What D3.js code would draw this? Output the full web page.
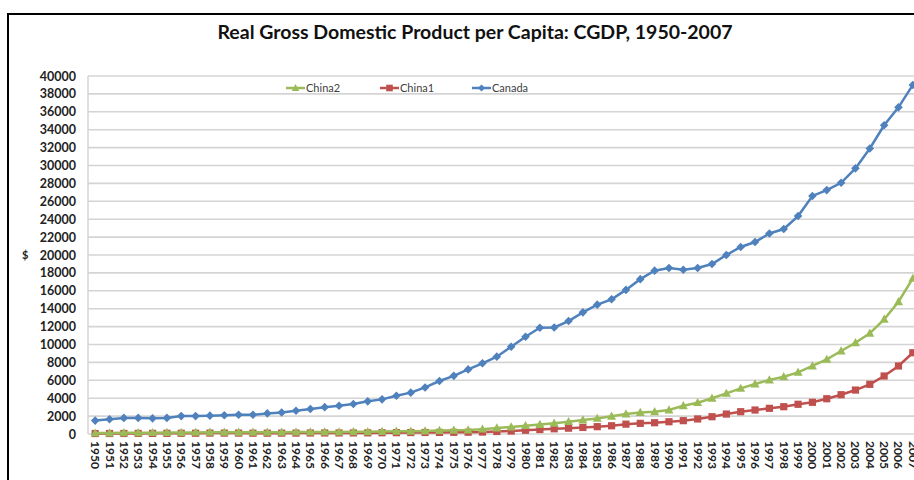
<!DOCTYPE html>
<html><head><meta charset="utf-8">
<script src="https://cdn.jsdelivr.net/npm/d3@7"></script>
<style>body{margin:0;background:#fff}svg{display:block}</style>
</head><body>
<svg id="c" width="914" height="480"></svg>
<script>
const years = d3.range(1950, 2008).map(String);
const canada = [1500,1650,1800,1800,1750,1800,2000,2000,2050,2100,2150,2150,2300,2400,2600,2800,3000,3150,3350,3650,3870,4280,4620,5200,5920,6500,7220,7900,8640,9750,10870,11870,11900,12620,13590,14450,15050,16100,17300,18250,18550,18350,18550,18990,20000,20900,21450,22400,22900,24350,26600,27250,28070,29680,31900,34500,36500,39000];
const china1 = [50,55,60,65,70,75,80,85,100,100,100,90,90,95,100,110,115,115,120,125,140,150,160,170,180,190,200,220,280,330,420,500,580,650,730,820,920,1100,1190,1260,1370,1490,1680,1930,2230,2490,2680,2870,3050,3320,3540,3940,4390,4910,5550,6480,7600,9080];
const china2 = [100,110,130,140,150,160,170,180,200,200,200,190,190,200,210,220,230,230,240,250,280,300,310,340,380,420,450,540,660,780,930,1060,1200,1380,1560,1740,1980,2230,2400,2480,2680,3160,3500,3990,4540,5100,5590,6030,6400,6890,7600,8340,9270,10200,11250,12810,14780,17390];
const yTicks = d3.range(0, 40001, 2000);
const seriesNames = ["China2","China1","Canada"];

const series = [
  {name:"Canada", values:canada, color:"#4F81BD", marker:"diamond"},
  {name:"China1", values:china1, color:"#C0504D", marker:"square"},
  {name:"China2", values:china2, color:"#9BBB59", marker:"triangle"}
];

const svg = d3.select("#c");
const font = "Lato, 'Open Sans', sans-serif";

// frame
svg.append("rect").attr("x",8).attr("y",14).attr("width",1000).attr("height",600)
  .attr("fill","none").attr("stroke","#000").attr("stroke-width",2);

svg.append("text").attr("x",475).attr("y",39).attr("text-anchor","middle")
  .attr("font-family",font).attr("font-weight","bold").attr("font-size",19.5).attr("fill","#111")
  .text("Real Gross Domestic Product per Capita: CGDP, 1950-2007");

const x = d3.scaleBand().domain(years).range([88, 920]);
const y = d3.scaleLinear().domain([0, 40000]).range([434, 76]);
const cx = d => x(d) + x.bandwidth()/2;

// gridlines
svg.append("g").selectAll("line").data(yTicks).join("line")
  .attr("x1",88).attr("x2",914).attr("y1",d=>y(d)).attr("y2",d=>y(d))
  .attr("stroke","#d4d4d4").attr("stroke-width",1.6);
svg.append("line").attr("x1",88).attr("x2",88).attr("y1",76).attr("y2",434)
  .attr("stroke","#d4d4d4").attr("stroke-width",1.5);

// y axis
const ya = svg.append("g").attr("transform","translate(88,0)")
  .call(d3.axisLeft(y).tickValues(yTicks).tickSize(0).tickPadding(12).tickFormat(d3.format("d")));
ya.select(".domain").remove();
ya.selectAll("text").attr("font-family",font).attr("font-weight","bold").attr("font-size",12.5).attr("fill","#222");

svg.append("text").attr("x",22).attr("y",259).attr("font-family",font).attr("font-weight","bold")
  .attr("font-size",11).attr("fill","#222").text("$");

// x axis
const xa = svg.append("g").attr("transform","translate(0,434)")
  .call(d3.axisBottom(x).tickSize(0).tickPadding(0));
xa.select(".domain").remove();
xa.selectAll("text").attr("font-family",font).attr("font-weight","bold").attr("font-size",12).attr("fill","#222")
  .attr("text-anchor","start").attr("dy",null).attr("y",0)
  .attr("transform","translate(-4,7) rotate(90)");

const line = d3.line().x((d,i)=>cx(years[i])).y(d=>y(d));

function markerPath(type, s){
  if(type==="diamond") return `M0,${-s}L${s},0L0,${s}L${-s},0Z`;
  if(type==="square") return `M${-s},${-s}H${s}V${s}H${-s}Z`;
  return `M0,${-s*1.1}L${s*1.05},${s*0.8}L${-s*1.05},${s*0.8}Z`;
}
const plot = svg.append("g");
series.forEach(s=>{
  plot.append("path").datum(s.values).attr("d",line).attr("fill","none")
    .attr("stroke",s.color).attr("stroke-width",2.5);
  plot.append("g").selectAll("path").data(s.values).join("path")
    .attr("transform",(d,i)=>`translate(${cx(years[i])},${y(d)})`)
    .attr("d",markerPath(s.marker, s.marker==="square"?3.6:4.3)).attr("fill",s.color);
});

// legend
const legX = [286, 380, 472];
const leg = svg.append("g");
seriesNames.forEach((n,i)=>{
  const s = series.find(t=>t.name===n);
  const g = leg.append("g").attr("transform",`translate(${legX[i]},88)`);
  g.append("line").attr("x1",0).attr("x2",19).attr("stroke",s.color).attr("stroke-width",2.5);
  g.append("path").attr("transform","translate(9.5,0)").attr("d",markerPath(s.marker, s.marker==="square"?3.3:3.6)).attr("fill",s.color);
  g.append("text").attr("x",20).attr("y",4).attr("font-family",font).attr("font-size",11)
    .attr("fill","#404040").text(n);
});
</script>
</body></html>
